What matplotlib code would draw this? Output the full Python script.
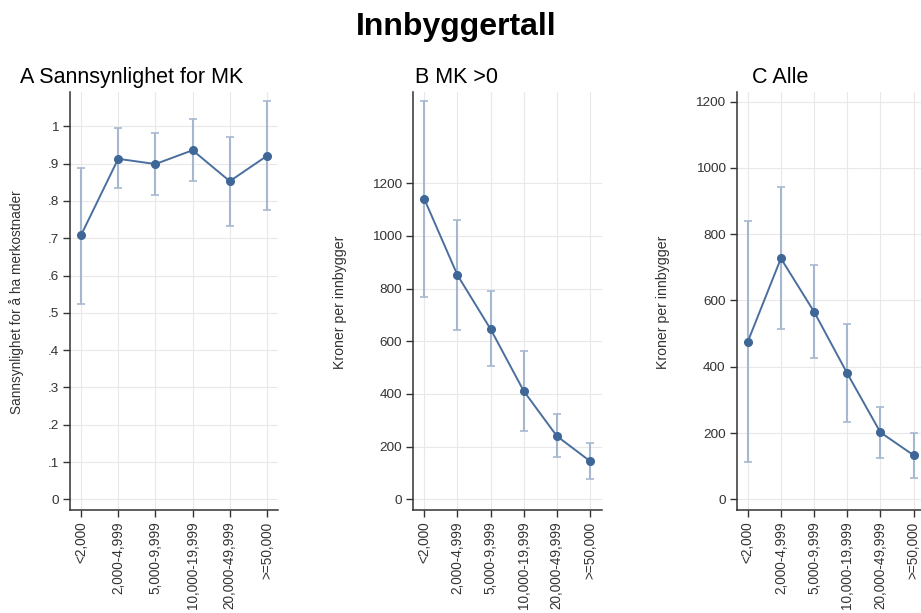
import matplotlib.pyplot as plt
import numpy as np

plt.rcParams['font.family'] = ['Liberation Sans', 'DejaVu Sans']

# Kommunestørrelse (innbyggertall)
groups = ["<2,000", "2,000-4,999", "5,000-9,999",
          "10,000-19,999", "20,000-49,999", ">=50,000"]

# A: sannsynlighet for merkostnader, med konfidensintervall
prob_est = [0.708, 0.913, 0.899, 0.936, 0.853, 0.921]
prob_lo = [0.525, 0.835, 0.816, 0.853, 0.734, 0.776]
prob_hi = [0.889, 0.995, 0.983, 1.020, 0.971, 1.067]

# B: kroner per innbygger, kommuner med MK > 0
pos_est = [1140, 851, 646, 411, 240, 145]
pos_lo = [768, 643, 507, 258, 159, 77]
pos_hi = [1510, 1061, 789, 564, 324, 215]

# C: kroner per innbygger, alle kommuner
all_est = [475, 727, 566, 380, 202, 133]
all_lo = [113, 515, 426, 233, 126, 65]
all_hi = [839, 942, 708, 529, 278, 201]

W, H = 921, 613
fig = plt.figure(figsize=(W / 100, H / 100), dpi=100)

line_col = '#4a6f9e'
mark_col = '#3e6697'
ci_col = '#a6b8d0'
axis_col = '#333333'
grid_col = '#e8e8e8'


def px_axes(left, right, top, bottom):
    return fig.add_axes([left / W, 1 - bottom / H, (right - left) / W, (bottom - top) / H])


def panel(ax, est, lo, hi, yticks, yticklabels, ylim, xlim):
    x = np.arange(1, len(groups) + 1)
    est = np.array(est)
    err = [est - np.array(lo), np.array(hi) - est]
    ax.errorbar(x, est, yerr=err, fmt='none', ecolor=ci_col, elinewidth=1.5,
                capsize=3, capthick=1.2, zorder=2)
    ax.plot(x, est, '-', color=line_col, lw=1.4, zorder=3)
    ax.plot(x, est, 'o', color=mark_col, ms=5.5, zorder=4)
    ax.set_xlim(*xlim)
    ax.set_ylim(*ylim)
    ax.set_xticks(x)
    ax.set_xticklabels(groups, rotation=90, fontsize=9.8, color=axis_col)
    ax.set_yticks(yticks)
    ax.set_yticklabels(yticklabels, fontsize=9.7, color=axis_col)
    ax.grid(True, color=grid_col, lw=0.8, zorder=0)
    ax.set_axisbelow(True)
    for s in ['top', 'right']:
        ax.spines[s].set_visible(False)
    for s in ['left', 'bottom']:
        ax.spines[s].set_color(axis_col)
        ax.spines[s].set_linewidth(1.1)
    ax.tick_params(length=5, width=1, color=axis_col, pad=3)


axA = px_axes(70, 278, 91.7, 510.3)
yA = np.round(np.arange(0, 1.01, 0.1), 1)
labA = ['0'] + ['.%d' % i for i in range(1, 10)] + ['1']
panel(axA, prob_est, prob_lo, prob_hi, yA, labA, (-0.0295, 1.093), (0.704, 6.296))

axB = px_axes(413.3, 601.7, 91.7, 510.3)
yB = np.arange(0, 1201, 200)
panel(axB, pos_est, pos_lo, pos_hi, yB, [str(v) for v in yB], (-41.7, 1547), (0.668, 6.353))

axC = px_axes(736.7, 925.3, 91.7, 510.3)
panel(axC, all_est, all_lo, all_hi, yB, [str(v) for v in yB], (-33.2, 1230), (0.668, 6.353))

# Panel titles
fig.text(20 / W, 1 - 83 / H, 'A Sannsynlighet for MK', fontsize=15.5, ha='left', va='baseline')
fig.text(415 / W, 1 - 83 / H, 'B MK >0', fontsize=15.5, ha='left', va='baseline')
fig.text(752 / W, 1 - 83 / H, 'C Alle', fontsize=15.5, ha='left', va='baseline')

# Y-axis titles
ymid = 1 - 302 / H
fig.text(17 / W, ymid, 'Sannsynlighet for å ha merkostnader', rotation=90,
         fontsize=9.8, ha='center', va='center', color=axis_col)
fig.text(340 / W, ymid, 'Kroner per innbygger', rotation=90,
         fontsize=10.2, ha='center', va='center', color=axis_col)
fig.text(663 / W, ymid, 'Kroner per innbygger', rotation=90,
         fontsize=10.2, ha='center', va='center', color=axis_col)

fig.text(456 / W, 1 - 35 / H, 'Innbyggertall', fontsize=23, fontweight='bold',
         ha='center', va='baseline')

fig.savefig('out.png', dpi=100)
